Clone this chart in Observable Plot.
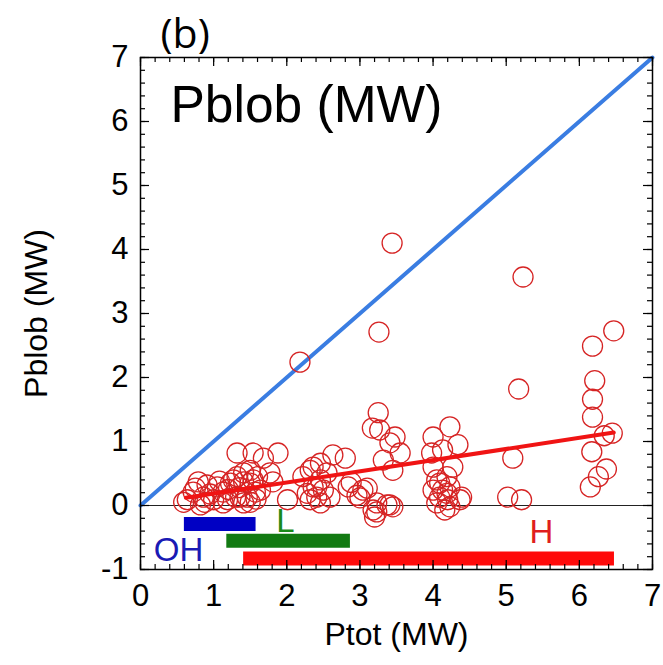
<!DOCTYPE html>
<html>
<head>
<meta charset="utf-8">
<script src="https://cdn.jsdelivr.net/npm/d3@7"></script>
<script src="https://cdn.jsdelivr.net/npm/@observablehq/plot@0.6"></script>
<style>
  html, body { margin: 0; padding: 0; background: white; }
  #chart svg { display: block; }
</style>
</head>
<body>
<div id="chart"></div>
<script>
// ---- data ----
const ptot = [
  3.44,5.23,3.26,2.18,6.47,6.18,6.21,6.18,6.18,5.17,6.45,6.34,6.17,6.37,6.26,6.15,5.09,5.02,5.21,
  3.25,3.17,3.27,3.48,3.41,3.55,3.32,3.45,
  2.46,2.63,2.80,2.36,2.41,2.84,2.88,3.04,2.96,3.23,3.41,3.23,3.18,3.20,2.01,3.45,3.00,3.10,3.37,
  1.32,1.54,1.68,1.88,1.77,1.50,
  0.64,0.79,0.72,0.91,1.05,0.86,1.00,1.13,1.23,1.32,1.41,1.30,1.46,1.54,1.57,1.41,1.13,0.82,1.81,
  1.27,1.41,1.50,1.60,1.36,1.58,1.64,1.19,0.59,1.50,0.95,1.08,0.75,1.20,0.88,1.35,
  2.32,2.46,2.55,2.36,2.50,2.41,2.28,2.59,2.46,2.32,2.22,
  4.23,4.00,4.34,3.98,4.13,4.00,4.19,4.27,4.05,4.13,4.00,4.23,4.09,4.20,4.39,4.05,4.23,4.16,4.09,4.19,4.37
];
const pblob = [
  4.10,3.57,2.71,2.24,2.73,2.49,1.95,1.66,1.38,1.82,1.13,1.09,0.84,0.57,0.45,0.29,0.74,0.13,0.09,
  1.45,1.21,1.18,1.07,0.98,0.82,0.71,0.55,
  0.66,0.79,0.74,0.60,0.29,0.29,0.36,0.24,0.16,0.04,0.01,-0.10,-0.07,-0.18,0.09,-0.02,0.12,0.27,0.01,
  0.82,0.82,0.74,0.82,0.51,0.55,
  0.09,0.37,0.21,0.32,0.29,0.13,0.09,0.21,0.35,0.45,0.37,0.13,0.13,0.40,0.21,0.04,0.04,0.01,0.37,
  0.40,0.51,0.35,0.45,0.13,0.10,0.24,0.09,0.05,0.05,0.18,0.38,0.27,0.25,0.05,0.28,
  0.55,0.40,0.51,0.29,0.24,0.13,0.19,0.13,0.04,0.09,0.45,
  1.23,1.07,0.95,0.82,0.87,0.60,0.45,0.60,0.40,0.24,0.24,0.29,0.13,0.09,0.13,0.04,-0.02,-0.07,0.35,0.19,0.09
];
const diagX = [0, 7];              // Pblob = Ptot reference line
const fitX = [0.62, 6.47];         // linear fit
const fitY = [0.12, 1.14];
const rangeNames = ["OH", "L", "H"];
const rangeStart = [0.60, 1.18, 1.41];
const rangeEnd = [1.58, 2.87, 6.48];
const rangeLevel = [-0.29, -0.55, -0.83];
const rangeColor = ["#0000c4", "#127a12", "#ff0a0a"];
const labelColor = ["#1a1ab4", "#1a8a1a", "#e01e1e"];
const labelX = [0.52, 1.98, 5.48];
const labelY = [-0.87, -0.41, -0.59];
const xTicks = [0,1,2,3,4,5,6,7];
const yTicks = [-1,0,1,2,3,4,5,6,7];

// ---- build ----
const points = ptot.map((x, i) => ({x, y: pblob[i]}));
const ranges = rangeNames.map((n, i) => ({name: n, start: rangeStart[i], end: rangeEnd[i], level: rangeLevel[i], color: rangeColor[i]}));
const labels = rangeNames.map((n, i) => ({name: n, x: labelX[i], y: labelY[i], color: labelColor[i]}));
const fit = fitX.map((x, i) => ({x, y: fitY[i]}));

const W = 663, H = 665, mL = 140, mR = 11, mT = 57, mB = 96;
const fw = W - mL - mR, fh = H - mT - mB;
const xMinor = d3.range(0, 7.001, 0.2);
const yMinor = d3.range(-1, 7.001, 0.2);
const majLen = 9, minLen = 5;

const chart = Plot.plot({
  width: W, height: H,
  marginLeft: mL, marginRight: mR, marginTop: mT, marginBottom: mB,
  style: {fontFamily: "'Liberation Sans', Arial, sans-serif", background: "white", overflow: "visible", color: "black"},
  x: {domain: [0, 7]},
  y: {domain: [-1, 7]},
  marks: [
    Plot.ruleY([0], {stroke: "#222", strokeWidth: 1.2}),
    Plot.ruleY(ranges, {y: "level", x1: "start", x2: "end", stroke: "color", strokeWidth: 14}),
    Plot.text(labels, {x: "x", y: "y", text: "name", fill: "color", fontSize: 33, lineAnchor: "bottom"}),
    Plot.line(diagX, {x: d => d, y: d => d, stroke: "#3a7de2", strokeWidth: 4}),
    Plot.dot(points, {x: "x", y: "y", r: 10, stroke: "#d62424", strokeWidth: 1.3, fill: "none"}),
    Plot.line(fit, {x: "x", y: "y", stroke: "#f01414", strokeWidth: 4}),
    // inward ticks
    Plot.tickX(xMinor, {x: d => d, insetTop: fh - minLen, stroke: "black", strokeWidth: 1.2}),
    Plot.tickX(xMinor, {x: d => d, insetBottom: fh - minLen, stroke: "black", strokeWidth: 1.2}),
    Plot.tickX(xTicks, {x: d => d, insetTop: fh - majLen, stroke: "black", strokeWidth: 1.2}),
    Plot.tickX(xTicks, {x: d => d, insetBottom: fh - majLen, stroke: "black", strokeWidth: 1.2}),
    Plot.tickY(yMinor, {y: d => d, insetRight: fw - minLen, stroke: "black", strokeWidth: 1.2}),
    Plot.tickY(yMinor, {y: d => d, insetLeft: fw - minLen, stroke: "black", strokeWidth: 1.2}),
    Plot.tickY(yTicks, {y: d => d, insetRight: fw - majLen, stroke: "black", strokeWidth: 1.2}),
    Plot.tickY(yTicks, {y: d => d, insetLeft: fw - majLen, stroke: "black", strokeWidth: 1.2}),
    Plot.frame({stroke: "black", strokeWidth: 1.5}),
    Plot.axisX({ticks: xTicks, tickSize: 0, tickPadding: 14, fontSize: 31, label: null, tickFormat: d => String(d)}),
    Plot.axisY({ticks: yTicks, tickSize: 0, tickPadding: 12, fontSize: 31, label: null, tickFormat: d => String(d)}),
    Plot.text(["Ptot (MW)"], {frameAnchor: "bottom", dy: 65, fontSize: 32, textAnchor: "middle", lineAnchor: "middle"}),
    Plot.text(["Pblob (MW)"], {frameAnchor: "left", dx: -104, rotate: -90, fontSize: 32, textAnchor: "middle", lineAnchor: "middle"}),
    Plot.text(["Pblob (MW)"], {frameAnchor: "top-left", dx: 30, dy: 28, fontSize: 51.5, textAnchor: "start", lineAnchor: "top"}),
    Plot.text(["(b)"], {frameAnchor: "top-left", dx: 20, dy: -10, fontSize: 41, textAnchor: "start", lineAnchor: "bottom", fontFamily: "'Open Sans', sans-serif"})
  ]
});
document.getElementById("chart").appendChild(chart);
</script>
</body>
</html>
